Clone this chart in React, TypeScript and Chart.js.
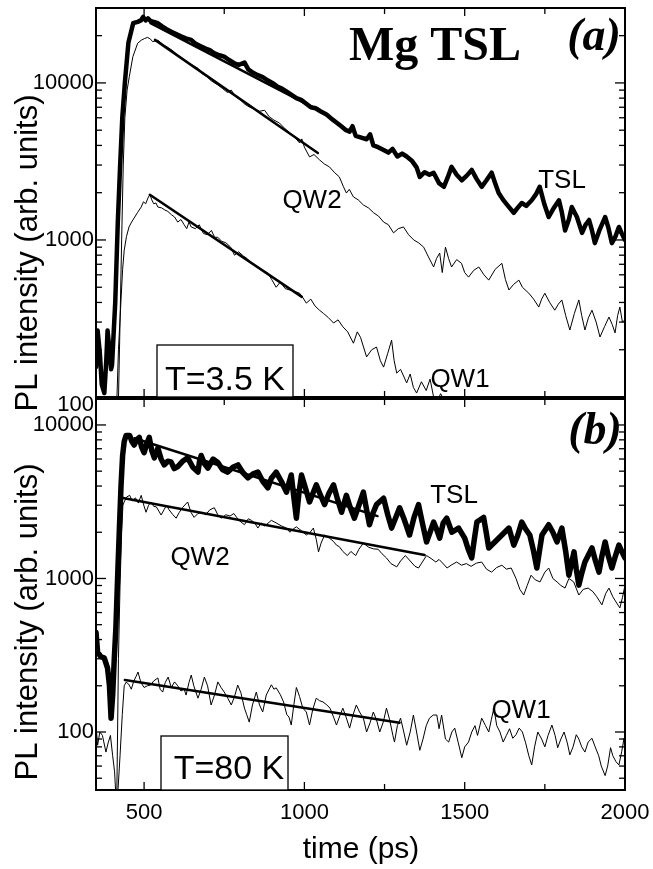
import React, { useEffect, useRef } from 'react';
import { Chart, registerables } from 'chart.js';

Chart.register(...registerables);

type P = [number, number];

// ---------- tick labels ----------
const xTickLabels = [500, 1000, 1500, 2000];
const yTickLabels = [100, 1000, 10000];

// ---------- panel (a) T = 3.5 K ----------
const tslA: P[] = [
  [350, 155], [355, 265], [362, 190], [368, 120], [376, 106], [382, 170], [386, 265], [392, 200], [397, 150],
  [400, 160], [410, 400], [418, 1300], [425, 2900], [432, 6000], [440, 10000], [451, 18000], [466, 24000],
  [480, 24500], [490, 25000], [497, 26300], [505, 25000], [512, 25800], [520, 24800], [530, 24500], [543, 24000],
  [555, 23000], [570, 22000], [585, 21200], [600, 20500], [615, 19800], [630, 19200], [647, 18800], [660, 17800],
  [675, 17200], [690, 16600], [705, 16200], [720, 15400], [735, 15000], [750, 14700], [765, 14000], [780, 13400],
  [795, 13000], [813, 13500], [825, 12200], [840, 11600], [855, 11200], [870, 10900], [885, 10400], [900, 10000],
  [915, 9500], [930, 9200], [945, 8800], [960, 8400], [975, 8000], [990, 7800], [1005, 7400], [1020, 7000],
  [1035, 6900], [1050, 6600], [1069, 6300], [1085, 5900], [1100, 5600], [1115, 5300], [1130, 5000], [1141, 4900],
  [1150, 5300], [1160, 4600], [1175, 4500], [1194, 4380], [1205, 4700], [1215, 4000], [1230, 3900], [1247, 3740],
  [1262, 3600], [1275, 3800], [1290, 3400], [1305, 3550], [1319, 3400], [1335, 3200], [1350, 2900], [1360, 2520],
  [1375, 2700], [1390, 2600], [1403, 2680], [1420, 2300], [1435, 2180], [1447, 2500], [1459, 2920], [1475, 2600],
  [1491, 2400], [1505, 2550], [1522, 2790], [1537, 2450], [1553, 2180], [1568, 2400], [1584, 2680], [1595, 2300],
  [1606, 1990], [1620, 1800], [1635, 1650], [1653, 1490], [1665, 1600], [1678, 1720], [1692, 1650], [1709, 1790],
  [1722, 1950], [1734, 2180], [1748, 1700], [1762, 1400], [1778, 1600], [1794, 1790], [1803, 1500], [1813, 1150],
  [1825, 1350], [1834, 1620], [1850, 1400], [1866, 1110], [1877, 1250], [1888, 1340], [1897, 1150], [1906, 955],
  [1920, 1150], [1938, 1400], [1948, 1200], [1959, 955], [1970, 1050], [1981, 1210], [1990, 1100], [2000, 1000],
];

const qw2A: P[] = [
  [418, 60], [425, 300], [430, 1000], [435, 3000], [440, 6000], [447, 9000], [454, 11000], [465, 14700],
  [480, 17900], [491, 18700], [502, 19200], [511, 19500], [520, 19000], [527, 18300], [535, 18500], [543, 18700],
  [560, 17500], [575, 16800], [590, 16000], [605, 15000], [620, 14300], [635, 13500], [650, 13000], [668, 12400],
  [680, 11500], [695, 11000], [710, 10300], [730, 9700], [745, 9200], [760, 8700], [772, 9000], [785, 8200],
  [800, 7800], [815, 7300], [830, 7000], [845, 6800], [860, 6600], [876, 6700], [890, 6100], [905, 5800],
  [922, 5560], [940, 5100], [955, 4800], [970, 4500], [985, 4150], [992, 4400], [1000, 3900], [1016, 3380],
  [1030, 3500], [1047, 3240], [1062, 3050], [1078, 2920], [1093, 2700], [1109, 2520], [1122, 2180], [1131, 1990],
  [1140, 2100], [1153, 1880], [1168, 1800], [1184, 1670], [1200, 1600], [1216, 1490], [1231, 1420], [1247, 1300],
  [1262, 1250], [1278, 1110], [1293, 1180], [1309, 1210], [1325, 1080], [1341, 1000], [1356, 960], [1372, 900],
  [1387, 780], [1403, 673], [1412, 760], [1422, 826], [1430, 620], [1440, 900], [1450, 760], [1459, 673],
  [1475, 750], [1490, 710], [1500, 620], [1512, 580], [1528, 640], [1544, 673], [1560, 600], [1575, 555],
  [1595, 650], [1616, 710], [1627, 560], [1638, 480], [1652, 520], [1669, 555], [1680, 500], [1700, 458],
  [1715, 420], [1731, 374], [1740, 420], [1750, 458], [1765, 400], [1781, 357], [1792, 390], [1803, 415],
  [1815, 330], [1828, 267], [1842, 340], [1856, 415], [1865, 330], [1875, 267], [1886, 320], [1897, 357],
  [1910, 300], [1922, 241], [1936, 280], [1950, 323], [1960, 290], [1969, 256], [1977, 330], [1984, 374],
  [1992, 300], [2000, 310],
];

const qw1A: P[] = [
  [412, 60], [420, 200], [428, 415], [433, 650], [438, 860], [445, 1050], [453, 1210], [461, 1300], [469, 1380],
  [480, 1500], [491, 1620], [498, 1750], [505, 1700], [512, 1850], [518, 1950], [524, 1800], [530, 1700],
  [537, 1720], [543, 1620], [555, 1600], [565, 1550], [574, 1520], [585, 1450], [595, 1400], [605, 1300],
  [615, 1350], [625, 1250], [633, 1180], [640, 1300], [647, 1210], [660, 1180], [672, 1250], [685, 1100],
  [697, 1080], [710, 1150], [720, 1040], [730, 1040], [742, 980], [755, 960], [770, 900], [782, 800],
  [795, 840], [810, 790], [822, 760], [834, 710], [846, 690], [858, 660], [870, 640], [886, 615], [898, 560],
  [912, 500], [925, 540], [940, 490], [955, 480], [970, 470], [985, 458], [995, 430], [1006, 396], [1020, 420],
  [1033, 380], [1047, 357], [1060, 340], [1075, 320], [1091, 296], [1105, 310], [1120, 280], [1135, 260],
  [1153, 220], [1165, 260], [1175, 240], [1194, 180], [1210, 200], [1225, 208], [1237, 170], [1247, 155],
  [1260, 190], [1272, 230], [1280, 170], [1288, 142], [1300, 150], [1319, 123], [1330, 140], [1340, 115],
  [1350, 106], [1365, 125], [1380, 110], [1392, 130], [1403, 100], [1415, 95], [1425, 105], [1440, 92],
  [1455, 100], [1470, 88], [1490, 80],
];

const fitTslA: P[] = [[520, 24000], [1069, 6300]];
const fitQw2A: P[] = [[534, 18800], [1042, 3580]];
const fitQw1A: P[] = [[518, 1940], [992, 434]];

// ---------- panel (b) T = 80 K ----------
const tslB: P[] = [
  [350, 447], [355, 331], [365, 310], [376, 303], [386, 261], [392, 200], [397, 123], [402, 174], [407, 300],
  [412, 476], [418, 1100], [423, 2130], [428, 4000], [433, 6330], [438, 7800], [444, 8550], [455, 8550],
  [462, 7800], [469, 7400], [477, 8000], [485, 8300], [492, 7200], [500, 6600], [508, 7500], [516, 8300],
  [524, 6800], [532, 6100], [538, 6600], [543, 7070], [553, 6000], [563, 5490], [574, 5800], [584, 5750],
  [594, 5200], [605, 5360], [620, 5800], [636, 6100], [652, 5300], [668, 4930], [673, 5800], [678, 6330],
  [688, 5600], [699, 5240], [715, 6000], [730, 5700], [745, 5100], [761, 4930], [777, 5300], [793, 5490],
  [808, 4900], [824, 4520], [840, 4800], [855, 4930], [870, 4300], [886, 3890], [897, 4500], [912, 4930],
  [928, 4300], [944, 3650], [952, 4200], [959, 4720], [967, 3400], [975, 2470], [983, 3600], [991, 4720],
  [1003, 3900], [1016, 3150], [1027, 3600], [1037, 4070], [1050, 3500], [1063, 3030], [1077, 3600], [1091, 4070],
  [1103, 3300], [1116, 2700], [1124, 3100], [1131, 3480], [1143, 2900], [1156, 2470], [1170, 3000], [1184, 3650],
  [1194, 2800], [1203, 2240], [1215, 2700], [1225, 3030], [1247, 3330], [1260, 2600], [1272, 2130], [1285, 2500],
  [1297, 2890], [1312, 2400], [1328, 1920], [1342, 2500], [1356, 3030], [1368, 2300], [1381, 1730], [1392, 2000],
  [1403, 2330], [1412, 2100], [1422, 1830], [1433, 2300], [1444, 2470], [1460, 2000], [1481, 2130], [1500, 1830],
  [1511, 1550], [1522, 1360], [1530, 1800], [1538, 2330], [1559, 2500], [1567, 2000], [1575, 1580], [1594, 1730],
  [1616, 1920], [1638, 2130], [1653, 1650], [1665, 1900], [1678, 2330], [1690, 2100], [1703, 1920], [1715, 1500],
  [1725, 1170], [1733, 1500], [1741, 1920], [1762, 2240], [1775, 2000], [1788, 1730], [1803, 2130], [1815, 1500],
  [1825, 1050], [1833, 1250], [1841, 1490], [1848, 1150], [1856, 905], [1866, 1100], [1875, 1280], [1897, 1580],
  [1908, 1300], [1919, 1100], [1928, 1400], [1938, 1730], [1948, 1400], [1959, 1170], [1970, 1400], [1981, 1650],
  [1990, 1500], [2000, 1360],
];

const qw2B: P[] = [
  [415, 40], [420, 300], [425, 900], [430, 2000], [434, 3000], [438, 3150], [446, 3400], [455, 3480],
  [463, 3200], [473, 3350], [482, 3100], [491, 3480], [499, 3000], [506, 2700], [514, 3000], [522, 3150],
  [530, 2950], [538, 2930], [546, 2750], [553, 2590], [562, 2800], [570, 3000], [578, 2800], [590, 2600],
  [600, 2470], [610, 2700], [620, 2900], [636, 3150], [646, 2700], [656, 2500], [668, 2650], [680, 2700],
  [692, 2600], [705, 2800], [719, 2890], [730, 2600], [740, 2470], [755, 2600], [768, 2550], [780, 2650],
  [795, 2400], [813, 2240], [825, 2450], [835, 2390], [845, 2300], [855, 2130], [865, 2300], [875, 2200],
  [881, 2240], [897, 2390], [912, 2300], [928, 2200], [944, 2130], [955, 2000], [965, 2100], [975, 2170],
  [990, 2050], [1006, 1920], [1018, 2000], [1028, 2130], [1037, 1800], [1044, 1490], [1052, 1700], [1063, 1920],
  [1078, 1830], [1090, 1750], [1100, 1650], [1109, 1610], [1120, 1500], [1134, 1410], [1145, 1500], [1160, 1410],
  [1170, 1550], [1184, 1700], [1200, 1600], [1215, 1560], [1230, 1550], [1242, 1450], [1256, 1360], [1270, 1250],
  [1288, 1190], [1300, 1300], [1315, 1410], [1330, 1300], [1345, 1200], [1356, 1170], [1370, 1300], [1381, 1410],
  [1395, 1350], [1410, 1280], [1420, 1330], [1428, 1280], [1445, 1170], [1460, 1230], [1475, 1280], [1490, 1220],
  [1505, 1250], [1520, 1200], [1537, 1260], [1553, 1280], [1568, 1150], [1584, 1100], [1600, 1180], [1616, 1220],
  [1630, 1150], [1645, 1170], [1660, 1000], [1672, 850], [1684, 780], [1695, 900], [1707, 1050], [1720, 980],
  [1735, 950], [1750, 1100], [1762, 1170], [1775, 1000], [1788, 950], [1800, 900], [1813, 866], [1825, 1000],
  [1840, 950], [1856, 780], [1870, 850], [1885, 866], [1900, 820], [1912, 760], [1928, 673], [1940, 800],
  [1950, 866], [1962, 760], [1972, 703], [1984, 643], [1992, 750], [2000, 905],
];

const qw1B: P[] = [
  [350, 111], [355, 82], [362, 100], [370, 95], [381, 74], [388, 85], [395, 95], [402, 70], [408, 55],
  [413, 35], [418, 40], [425, 70], [432, 130], [438, 200], [444, 211], [452, 205], [460, 190], [468, 215],
  [475, 230], [481, 246], [490, 210], [500, 195], [510, 200], [520, 202], [530, 215], [543, 225], [550, 190],
  [558, 182], [566, 210], [575, 228], [585, 195], [595, 212], [605, 200], [615, 185], [625, 190], [631, 174],
  [640, 210], [647, 235], [655, 200], [668, 166], [678, 190], [688, 228], [698, 200], [709, 150], [720, 175],
  [730, 212], [740, 195], [750, 182], [761, 166], [772, 150], [782, 170], [792, 202], [802, 180], [813, 143],
  [820, 130], [828, 116], [838, 150], [850, 182], [860, 150], [870, 135], [881, 174], [897, 203], [905, 190],
  [912, 194], [925, 175], [935, 157], [945, 130], [952, 125], [959, 111], [967, 150], [975, 195], [985, 170],
  [995, 143], [1006, 135], [1016, 111], [1026, 140], [1037, 166], [1047, 160], [1058, 157], [1070, 150],
  [1080, 143], [1091, 125], [1100, 111], [1112, 130], [1120, 143], [1130, 125], [1141, 106], [1152, 130],
  [1162, 150], [1172, 135], [1184, 123], [1194, 100], [1205, 115], [1215, 135], [1225, 120], [1235, 100],
  [1246, 116], [1256, 143], [1266, 120], [1276, 95], [1281, 86], [1290, 110], [1300, 123], [1310, 100],
  [1319, 82], [1330, 100], [1340, 129], [1350, 100], [1360, 76], [1370, 90], [1380, 110], [1390, 123],
  [1402, 129], [1413, 129], [1420, 105], [1428, 129], [1440, 90], [1450, 86], [1460, 100], [1469, 106],
  [1480, 85], [1491, 68], [1500, 80], [1512, 86], [1522, 100], [1532, 110], [1540, 95], [1553, 123],
  [1565, 110], [1575, 100], [1583, 120], [1591, 143], [1600, 110], [1610, 100], [1620, 86], [1630, 95],
  [1640, 105], [1650, 91], [1660, 96], [1670, 106], [1680, 100], [1690, 85], [1700, 70], [1709, 61],
  [1718, 80], [1728, 100], [1740, 90], [1750, 80], [1760, 95], [1772, 111], [1782, 95], [1790, 79],
  [1800, 90], [1810, 100], [1820, 85], [1828, 71], [1838, 80], [1848, 96], [1856, 90], [1865, 80],
  [1875, 74], [1885, 86], [1897, 91], [1907, 80], [1918, 70], [1926, 60], [1938, 52], [1946, 60],
  [1955, 79], [1962, 70], [1972, 64], [1981, 61], [1990, 75], [1997, 91], [2000, 70],
];

const fitTslB: P[] = [[470, 8200], [1228, 2550]];
const fitQw2B: P[] = [[434, 3340], [1375, 1420]];
const fitQw1B: P[] = [[440, 218], [1297, 115]];

// ---------- styling ----------
const SANS = '"Liberation Sans", Arial, Helvetica, sans-serif';
const SERIF = '"Liberation Serif", "Times New Roman", serif';

const toXY = (d: P[]) => d.map(([x, y]) => ({ x, y }));

const ds = (label: string, d: P[], w: number) => ({
  label,
  data: toXY(d),
  borderColor: '#000',
  backgroundColor: '#000',
  borderWidth: w,
  pointRadius: 0,
  tension: 0,
  fill: false,
  borderJoinStyle: 'round',
  borderCapStyle: 'round',
});

const framePlugin = {
  id: 'frame',
  afterDatasetsDraw(chart: any) {
    const { ctx, chartArea: a, scales } = chart;
    const xs = scales.x;
    const ys = scales.y;
    ctx.save();
    ctx.strokeStyle = '#000';
    const seg = (x1: number, y1: number, x2: number, y2: number) => {
      ctx.beginPath();
      ctx.moveTo(x1, y1);
      ctx.lineTo(x2, y2);
      ctx.stroke();
    };
    ctx.lineWidth = 1.3;
    for (let e = 1; e <= 5; e++) {
      for (let k = 1; k <= 9; k++) {
        const v = k * Math.pow(10, e);
        if (v <= ys.min || v >= ys.max) continue;
        const p = ys.getPixelForValue(v);
        const len = k === 1 ? 10 : 6;
        seg(a.left, p, a.left + len, p);
        seg(a.right, p, a.right - len, p);
      }
    }
    for (let t = 500; t < 2000; t += 250) {
      const p = xs.getPixelForValue(t);
      const len = t % 500 === 0 ? 8 : 6;
      seg(p, a.bottom, p, a.bottom - len);
      seg(p, a.top, p, a.top + len);
    }
    ctx.lineWidth = 2;
    ctx.strokeRect(a.left, a.top, a.right - a.left, a.bottom - a.top);
    ctx.restore();
  },
};

const textPlugin = {
  id: 'texts',
  afterDraw(chart: any, _args: any, opts: any) {
    const { ctx } = chart;
    ctx.save();
    (opts.boxes || []).forEach((b: any) => {
      ctx.fillStyle = '#fff';
      ctx.fillRect(b.x, b.y, b.w, b.h);
      ctx.strokeStyle = '#000';
      ctx.lineWidth = 1.3;
      ctx.strokeRect(b.x, b.y, b.w, b.h);
    });
    (opts.items || []).forEach((it: any) => {
      ctx.save();
      ctx.translate(it.x, it.y);
      if (it.rot) ctx.rotate((it.rot * Math.PI) / 180);
      ctx.font = it.font;
      ctx.fillStyle = '#000';
      ctx.textAlign = 'center';
      ctx.textBaseline = 'alphabetic';
      ctx.fillText(it.text, 0, 0);
      ctx.restore();
    });
    ctx.restore();
  },
};

const W = 653;
const A_H = 420;
const B_TOP = 395;
const B_H = 869 - B_TOP;

function yAxis(min: number, max: number, shiftBottom: boolean) {
  return {
    type: 'logarithmic',
    position: 'left',
    min,
    max,
    grid: { display: false, drawTicks: false },
    border: { display: false },
    afterBuildTicks: (s: any) => {
      s.ticks = yTickLabels.map((v) => ({ value: v }));
    },
    afterFit: (s: any) => {
      s.width = 96;
      s.paddingTop = 0;
      s.paddingBottom = 0;
    },
    ticks: {
      autoSkip: false,
      padding: 2,
      color: '#000',
      font: { family: SANS, size: 22, lineHeight: 0.75 },
      callback: (v: any) => (shiftBottom && Number(v) === 100 ? ['', '100'] : String(v)),
    },
  };
}

export default function App() {
  const refA = useRef<HTMLCanvasElement>(null);
  const refB = useRef<HTMLCanvasElement>(null);

  useEffect(() => {
    const chartA = new Chart(refA.current as HTMLCanvasElement, {
      type: 'line',
      data: {
        datasets: [
          ds('TSL', tslA, 4.5),
          ds('QW2', qw2A, 1),
          ds('QW1', qw1A, 1),
          ds('TSL fit', fitTslA, 2.5),
          ds('QW2 fit', fitQw2A, 2.5),
          ds('QW1 fit', fitQw1A, 2.5),
        ] as any,
      },
      options: {
        responsive: false,
        animation: false,
        events: [],
        layout: { padding: { left: 0, top: 8, right: 28, bottom: A_H - 397 } },
        plugins: {
          legend: { display: false },
          tooltip: { enabled: false },
          texts: {
            boxes: [{ x: 157, y: 345, w: 136, h: 52 }],
            items: [
              { text: 'PL intensity (arb. units)', x: 37, y: 253, rot: -90, font: `31px ${SANS}` },
              { text: 'Mg TSL', x: 435, y: 60, font: `bold 48px ${SERIF}` },
              { text: '(a)', x: 594, y: 50, font: `italic bold 46px ${SERIF}` },
              { text: 'TSL', x: 562, y: 188, font: `26px ${SANS}` },
              { text: 'QW2', x: 312, y: 208, font: `26px ${SANS}` },
              { text: 'QW1', x: 460, y: 387, font: `26px ${SANS}` },
              { text: 'T=3.5 K', x: 225, y: 390, font: `34px ${SANS}` },
            ],
          },
        } as any,
        scales: {
          x: { type: 'linear', display: false, min: 350, max: 2000 },
          y: yAxis(100, 30000, true),
        } as any,
      },
      plugins: [framePlugin, textPlugin],
    } as any);

    const chartB = new Chart(refB.current as HTMLCanvasElement, {
      type: 'line',
      data: {
        datasets: [
          ds('TSL', tslB, 5.5),
          ds('QW2', qw2B, 1),
          ds('QW1', qw1B, 1),
          ds('TSL fit', fitTslB, 2.5),
          ds('QW2 fit', fitQw2B, 2.5),
          ds('QW1 fit', fitQw1B, 2.5),
        ] as any,
      },
      options: {
        responsive: false,
        animation: false,
        events: [],
        layout: { padding: { left: 0, top: 399 - B_TOP, right: 28, bottom: 0 } },
        plugins: {
          legend: { display: false },
          tooltip: { enabled: false },
          texts: {
            boxes: [{ x: 161, y: 736 - B_TOP, w: 127, h: 54 }],
            items: [
              { text: 'PL intensity (arb. units)', x: 37, y: 622 - B_TOP, rot: -90, font: `31px ${SANS}` },
              { text: '(b)', x: 595, y: 444 - B_TOP, font: `italic bold 46px ${SERIF}` },
              { text: 'TSL', x: 454, y: 503 - B_TOP, font: `26px ${SANS}` },
              { text: 'QW2', x: 200, y: 565 - B_TOP, font: `26px ${SANS}` },
              { text: 'QW1', x: 521, y: 718 - B_TOP, font: `26px ${SANS}` },
              { text: 'T=80 K', x: 229, y: 779 - B_TOP, font: `34px ${SANS}` },
              { text: 'time (ps)', x: 361, y: 858 - B_TOP, font: `30px ${SANS}` },
            ],
          },
        } as any,
        scales: {
          x: {
            type: 'linear',
            position: 'bottom',
            min: 350,
            max: 2000,
            grid: { display: false, drawTicks: false },
            border: { display: false },
            afterBuildTicks: (s: any) => {
              s.ticks = xTickLabels.map((v) => ({ value: v }));
            },
            afterFit: (s: any) => {
              s.height = B_H - (790 - B_TOP);
              s.paddingLeft = 0;
              s.paddingRight = 0;
            },
            ticks: {
              autoSkip: false,
              maxRotation: 0,
              padding: 10,
              color: '#000',
              font: { family: SANS, size: 22 },
              callback: (v: any) => String(v),
            },
          },
          y: yAxis(41.9, 14760, false),
        } as any,
      },
      plugins: [framePlugin, textPlugin],
    } as any);

    return () => {
      chartA.destroy();
      chartB.destroy();
    };
  }, []);

  return (
    <div style={{ position: 'absolute', left: 0, top: 0, width: W, height: 869, background: '#fff', overflow: 'hidden' }}>
      <canvas
        ref={refB}
        width={W}
        height={B_H}
        style={{ position: 'absolute', left: 0, top: B_TOP, width: W, height: B_H }}
      />
      <canvas
        ref={refA}
        width={W}
        height={A_H}
        style={{ position: 'absolute', left: 0, top: 0, width: W, height: A_H }}
      />
    </div>
  );
}
